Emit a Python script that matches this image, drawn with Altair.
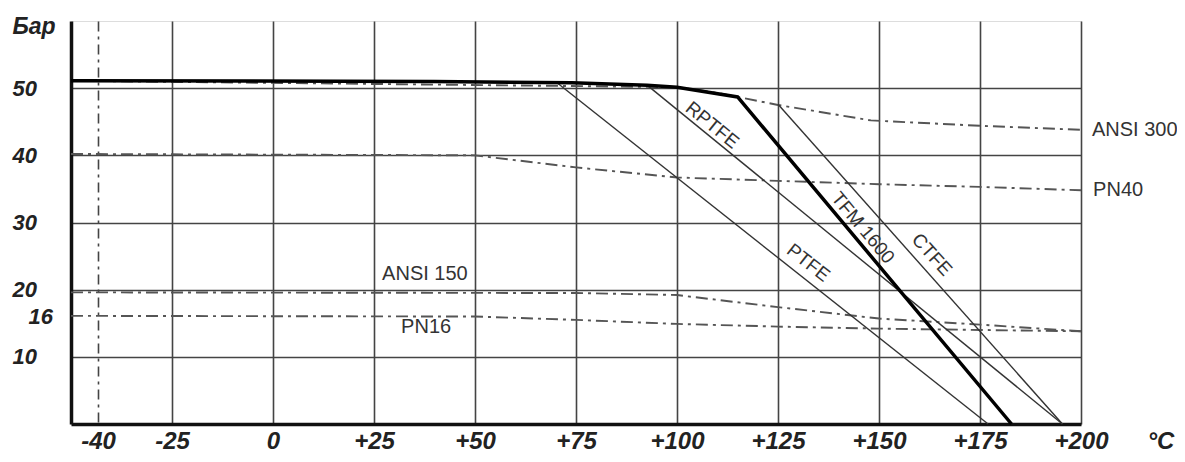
import altair as alt
import pandas as pd

# ---- data ----
tfm_x = [-50, 40, 74, 92.6, 100, 115, 182.8]
tfm_y = [51.1, 51.0, 50.8, 50.45, 50.15, 48.7, 0]

ptfe_x = [70.3, 177.0]
ptfe_y = [50.8, 0]
rptfe_x = [92.6, 195.4]
rptfe_y = [50.45, 0]
ctfe_x = [125.0, 195.4]
ctfe_y = [47.6, 0]

ansi300_x = [-50, 100, 110, 125, 148, 175, 200]
ansi300_y = [51.1, 50.15, 49.3, 47.5, 45.2, 44.4, 43.8]
pn40_x = [-50, 50, 75, 100, 125, 150, 175, 200]
pn40_y = [40.2, 40.0, 38.2, 36.7, 36.2, 35.7, 35.3, 34.8]
ansi150_x = [-50, 75, 100, 125, 150, 175, 200]
ansi150_y = [19.6, 19.5, 19.2, 17.4, 15.7, 14.8, 13.8]
pn16_x = [-50, 50, 75, 100, 125, 150, 175, 200]
pn16_y = [16.1, 16.0, 15.5, 14.9, 14.5, 14.2, 14.0, 13.8]

x_ticks = [-40, -25, 0, 25, 50, 75, 100, 125, 150, 175, 200]
y_ticks = [10, 16, 20, 30, 40, 50]

rot_names = ["RPTFE", "TFM 1600", "CTFE", "PTFE"]
rot_x = [108.7, 146.0, 163.1, 132.5]
rot_y = [44.5, 29.2, 25.2, 24.0]
rot_angle = [39, 50, 48, 38]

side_names = ["ANSI 300", "PN40"]
side_x = [202.7, 203.0]
side_y = [43.8, 34.9]

mid_names = ["ANSI 150", "PN16"]
mid_x = [37.6, 37.9]
mid_y = [22.4, 14.4]


def frame(name, xs, ys):
    return pd.DataFrame({"series": name, "x": xs, "y": ys, "order": range(len(xs))})


thick_df = frame("TFM 1600", tfm_x, tfm_y)
thin_df = pd.concat([frame("PTFE", ptfe_x, ptfe_y),
                     frame("RPTFE", rptfe_x, rptfe_y),
                     frame("CTFE", ctfe_x, ctfe_y)])
dash_df = pd.concat([frame("ANSI 300", ansi300_x, ansi300_y),
                     frame("PN40", pn40_x, pn40_y),
                     frame("ANSI 150", ansi150_x, ansi150_y),
                     frame("PN16", pn16_x, pn16_y)])

rot_df = pd.DataFrame({"label": rot_names, "x": rot_x, "y": rot_y, "angle": rot_angle})
side_df = pd.DataFrame({"label": side_names, "x": side_x, "y": side_y})
mid_df = pd.DataFrame({"label": mid_names, "x": mid_x, "y": mid_y})

FONT = "Liberation Sans"

X = alt.X(
    "x:Q",
    scale=alt.Scale(domain=[-50, -40, -25, 200], range=[0, 27, 101, 1010], nice=False, zero=False),
    axis=alt.Axis(
        values=x_ticks,
        labelExpr="datum.value > 0 ? '+' + datum.value : '' + datum.value",
        labelFont=FONT, labelFontSize=24, labelFontWeight="bold", labelFontStyle="italic",
        labelColor="#222", labelPadding=5, labelFlush=False, labelOverlap=False,
        ticks=False, tickSize=0,
        domainColor="#111", domainWidth=3.5,
        grid=True, gridColor="#444", gridWidth=1.6,
        gridDash={"condition": {"test": "datum.value === -40", "value": [10, 5, 3, 5]}, "value": []},
        title="°C", titleFont=FONT, titleFontSize=24, titleFontWeight="bold", titleFontStyle="italic",
        titleColor="#222", titleAnchor="start", titleAlign="left", titleBaseline="alphabetic",
        titleX=1076, titleY=24,
    ),
)

Y = alt.Y(
    "y:Q",
    scale=alt.Scale(domain=[0, 60], nice=False, zero=True),
    axis=alt.Axis(
        values=y_ticks,
        labelFont=FONT, labelFontSize=22, labelFontWeight="bold", labelFontStyle="italic",
        labelColor="#222", labelAlign="left", labelBaseline="middle",
        labelPadding={"condition": {"test": "datum.value === 16", "value": 43}, "value": 59},
        labelFlush=False, labelOverlap=False,
        ticks=False, tickSize=0,
        domainColor="#111", domainWidth=3.5,
        grid=True, gridColor="#444", gridWidth=1.6,
        gridOpacity={"condition": {"test": "datum.value === 16", "value": 0}, "value": 1},
        title="Бар", titleFont=FONT, titleFontSize=23, titleFontWeight="bold", titleFontStyle="italic",
        titleColor="#222", titleAngle=0, titleAlign="left", titleBaseline="alphabetic",
        titleX=-59, titleY=12,
    ),
)

dashed = alt.Chart(dash_df).mark_line(color="#555", strokeWidth=1.9, strokeDash=[12, 5, 3, 5]).encode(
    x=X, y=Y, detail="series:N", order="order:Q"
)
thin = alt.Chart(thin_df).mark_line(color="#333", strokeWidth=1.4).encode(
    x=X, y=Y, detail="series:N", order="order:Q"
)
thick = alt.Chart(thick_df).mark_line(color="#000", strokeWidth=3.5).encode(
    x=X, y=Y, order="order:Q"
)
rot_text = alt.Chart(rot_df).mark_text(
    font=FONT, fontSize=19, color="#333", align="center", baseline="middle"
).encode(x=X, y=Y, text="label:N", angle=alt.Angle("angle:Q", scale=None))
side_text = alt.Chart(side_df).mark_text(
    font=FONT, fontSize=20, color="#333", align="left", baseline="middle"
).encode(x=X, y=Y, text="label:N")
mid_text = alt.Chart(mid_df).mark_text(
    font=FONT, fontSize=20, color="#333", align="center", baseline="middle"
).encode(x=X, y=Y, text="label:N")

chart = alt.layer(dashed, thin, thick, rot_text, side_text, mid_text).properties(
    width=1010, height=403,
    autosize=alt.AutoSizeParams(type="none"),
    padding={"left": 63, "top": 13, "right": 96, "bottom": 30},
).configure_view(stroke="#666", strokeWidth=1.5).configure(background="white")

chart.save("out.html", embed_options={"renderer": "svg", "actions": False})
